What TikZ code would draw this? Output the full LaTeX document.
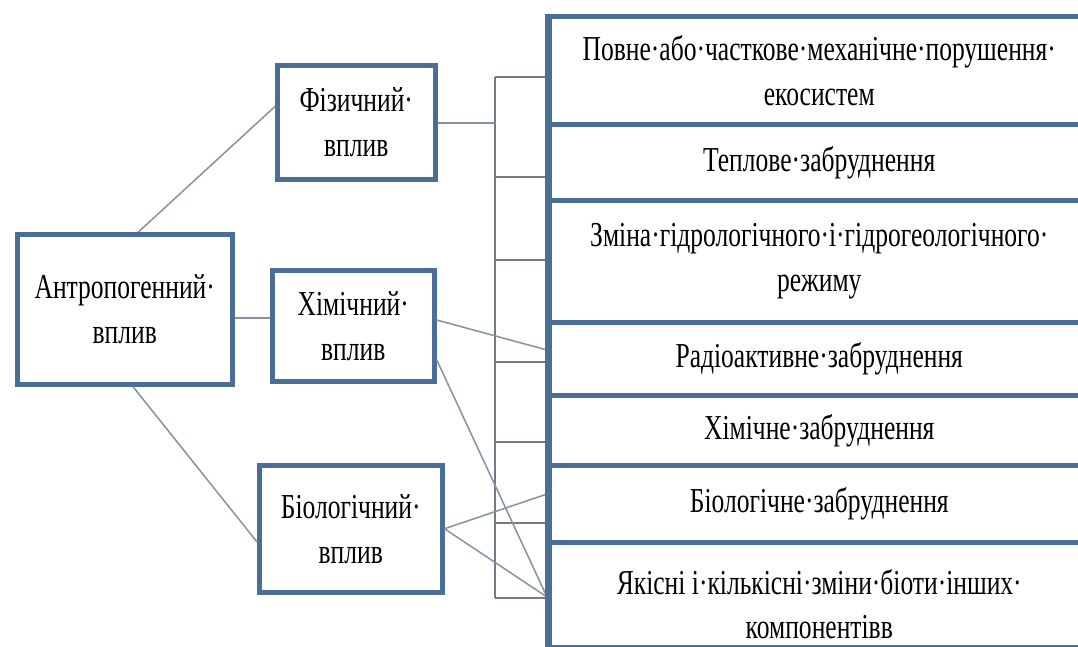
\documentclass[tikz,border=0pt]{standalone}
\usepackage{fontspec}
\setmainfont[FakeStretch=0.73]{Liberation Serif}
\usetikzlibrary{calc}
\definecolor{boxblue}{HTML}{4A6E96}
\definecolor{linegray}{HTML}{8592A0}
\begin{document}
\begin{tikzpicture}[x=1pt,y=-1pt,
  box/.style={draw=boxblue, line width=4.5pt, fill=white, inner sep=0pt,
    align=center, anchor=north west, font=\fontsize{35}{45}\selectfont},
  rbox/.style={box, minimum width=540},
  conn/.style={draw=linegray, line width=1.5pt},
  brk/.style={draw=linegray!85!black, line width=1.3pt}]
\useasboundingbox[fill=white] (0,0) rectangle (1078,646);
% left column
\node[box, minimum width=215, minimum height=150] (anthro) at (15,232) {Антропогенний·\\вплив};
\node[box, minimum width=158, minimum height=114] (phys) at (275,63) {Фізичний·\\вплив};
\node[box, minimum width=162, minimum height=111] (chem) at (270,268) {Хімічний·\\вплив};
\node[box, minimum width=183, minimum height=127] (bio) at (257,463) {Біологічний·\\вплив};
% right column
\node[rbox, minimum height=108] (r1) at (547,14) {Повне·або·часткове·механічне·порушення·\\екосистем};
\node[rbox, minimum height=76] (r2) at (547,122) {Теплове·забруднення};
\node[rbox, minimum height=122] (r3) at (547,198) {Зміна·гідрологічного·і·гідрогеологічного·\\режиму};
\node[rbox, minimum height=73] (r4) at (547,320) {Радіоактивне·забруднення};
\node[rbox, minimum height=70] (r5) at (547,393) {Хімічне·забруднення};
\node[rbox, minimum height=77] (r6) at (547,463) {Біологічне·забруднення};
\node[rbox, minimum height=105] (r7) at (547,540) {};
\node[align=center, inner sep=0pt, font=\fontsize{35}{44}\selectfont] (r7t) at ($(r7.center)+(0,9)$) {Якісні і·кількісні·зміни·біоти·інших·\\компонентівв};
% bracket
\coordinate (btop) at (495,77);
\coordinate (bbot) at (495,598);
\draw[brk] (btop) -- (bbot);
\draw[brk] (btop) -- (r1.west |- btop);
\draw[brk] (btop |- 0,177) -- (r2.west |- 0,177);
\draw[brk] (btop |- 0,260) -- (r3.west |- 0,260);
\draw[brk] (btop |- 0,362) -- (r4.west |- 0,362);
\draw[brk] (btop |- 0,442) -- (r5.west |- 0,442);
\draw[brk] (btop |- 0,523) -- (r6.west |- 0,523);
\draw[brk] (bbot) -- (r7.west |- bbot);
% connectors
\draw[conn] (anthro.80) -- (phys.169);
\draw[conn] (anthro.east |- 0,318) -- (chem.west |- 0,318);
\draw[conn] (anthro.-84) -- (bio.188);
\draw[conn] (phys.east |- 0,123) -- (btop |- 0,123);
\draw[conn] (chem.4) -- (r4.west |- 0,350);
\draw[conn] (chem.-22) -- (r7.west |- 0,597);
\draw[conn] (bio.east) -- (r6.west |- 0,494);
\draw[conn] (bio.east) -- (r7.west |- 0,597);
% redraw right column left edge and bottom over connectors/text
\draw[boxblue, line width=4.5pt] (r1.north west) -- (r7.south west);
\draw[boxblue, line width=4.5pt] (r7.south west) -- (r7.south east);
\end{tikzpicture}
\end{document}
